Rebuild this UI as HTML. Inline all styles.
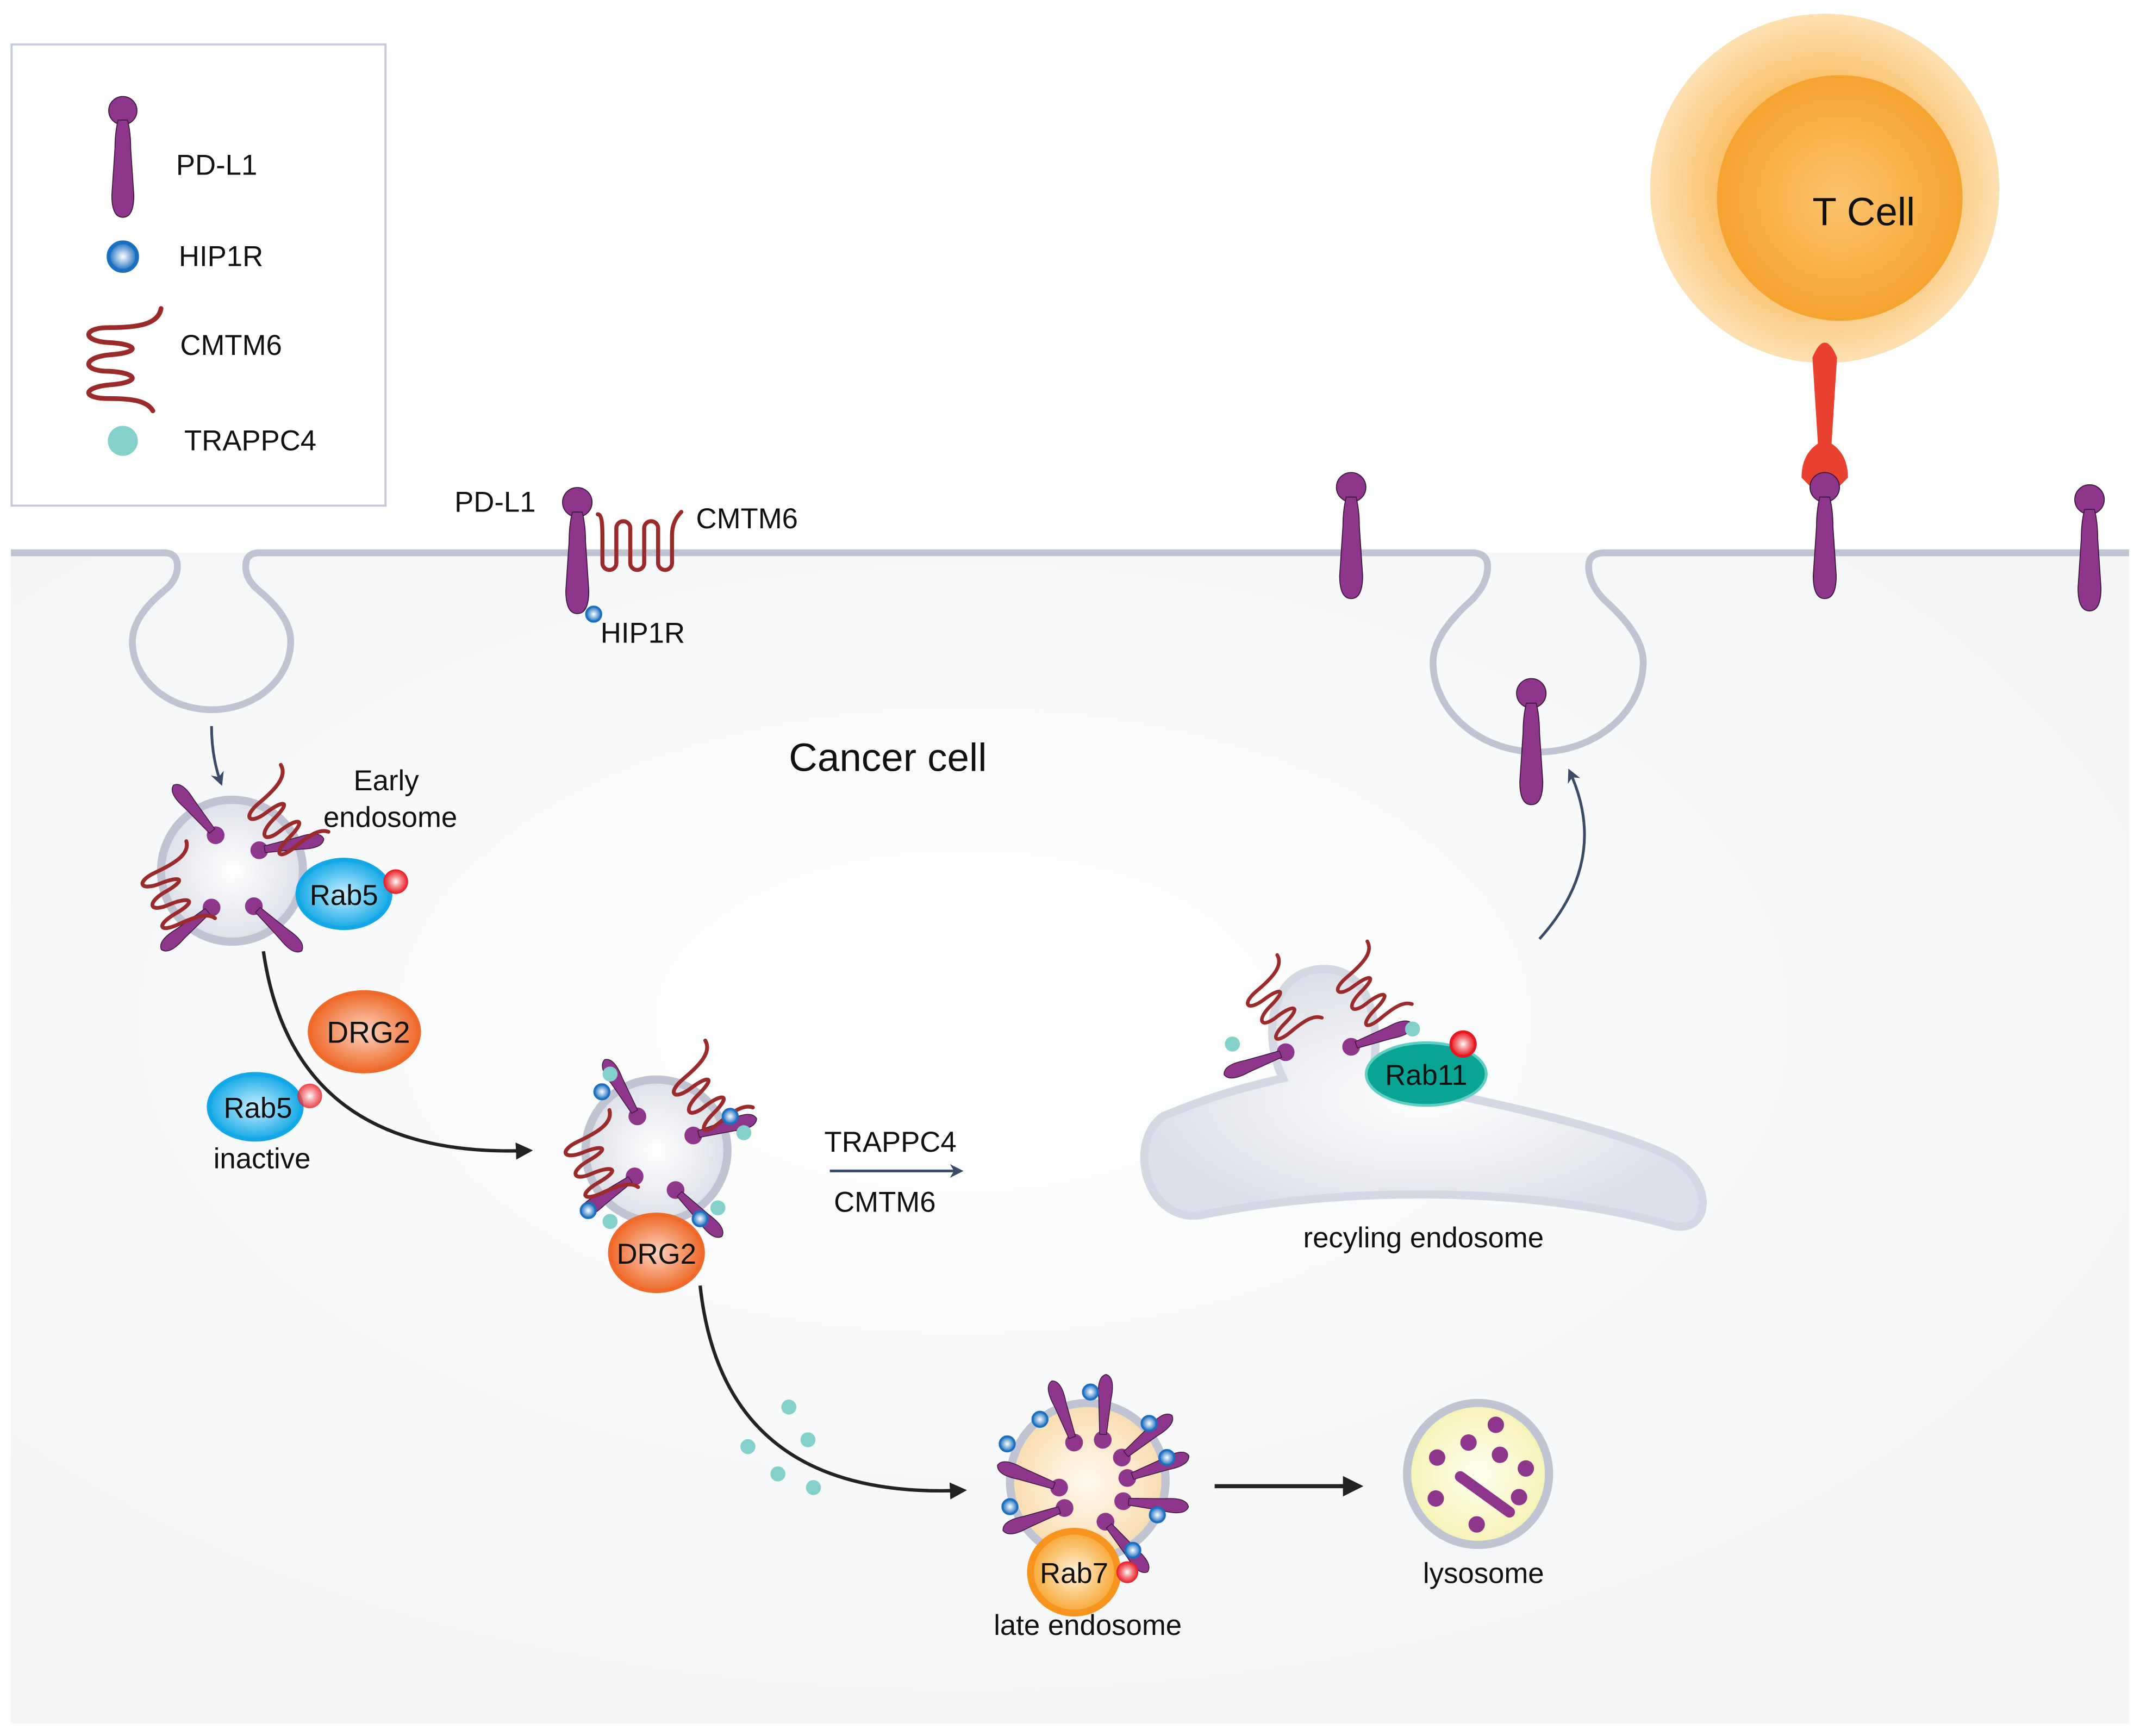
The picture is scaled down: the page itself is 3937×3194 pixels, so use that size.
<!DOCTYPE html>
<html><head><meta charset="utf-8"><style>html,body{margin:0;padding:0;background:#fff}svg{display:block}text{font-family:"Liberation Sans",Arial,sans-serif;fill:#111}</style></head><body>
<svg width="3937" height="3194" viewBox="0 0 1568 1272" xmlns="http://www.w3.org/2000/svg">
<defs>
<radialGradient id="cellbg" cx="0.45" cy="0.4" r="0.6"><stop offset="0" stop-color="#ffffff"/><stop offset="1" stop-color="#f3f5f7"/></radialGradient>
<radialGradient id="endo" cx="0.5" cy="0.5" r="0.5"><stop offset="0" stop-color="#ffffff"/><stop offset="1" stop-color="#dde0e8"/></radialGradient>
<radialGradient id="late" cx="0.5" cy="0.5" r="0.5"><stop offset="0" stop-color="#fffaf0"/><stop offset="1" stop-color="#f8dcb0"/></radialGradient>
<radialGradient id="lyso" cx="0.5" cy="0.5" r="0.5"><stop offset="0" stop-color="#fffff0"/><stop offset="1" stop-color="#f5f2b5"/></radialGradient>
<radialGradient id="blue" cx="0.5" cy="0.5" r="0.5"><stop offset="0" stop-color="#c8f0ff"/><stop offset="1" stop-color="#16a9e6"/></radialGradient>
<radialGradient id="orng" cx="0.5" cy="0.5" r="0.5"><stop offset="0" stop-color="#fbd3c0"/><stop offset="1" stop-color="#ef6a2a"/></radialGradient>
<radialGradient id="r7" cx="0.5" cy="0.5" r="0.5"><stop offset="0" stop-color="#fff3dc"/><stop offset="1" stop-color="#f7a632"/></radialGradient>
<radialGradient id="red" cx="0.5" cy="0.5" r="0.5"><stop offset="0" stop-color="#ffffff"/><stop offset="0.45" stop-color="#f4898c"/><stop offset="1" stop-color="#e8161e"/></radialGradient>
<radialGradient id="hip" cx="0.5" cy="0.5" r="0.5"><stop offset="0" stop-color="#ffffff"/><stop offset="1" stop-color="#1a6fc0"/></radialGradient>
<radialGradient id="tout" cx="0.5" cy="0.5" r="0.5"><stop offset="0.6" stop-color="#fbc06a"/><stop offset="1" stop-color="#fde1b3"/></radialGradient>
<radialGradient id="tin" cx="0.5" cy="0.5" r="0.5"><stop offset="0" stop-color="#fbc36d"/><stop offset="1" stop-color="#f6a430"/></radialGradient>
<g id="pd"><circle cx="0" cy="0" r="9" fill="#8e358c" stroke="#3a1a3a" stroke-width="0.6"/><path d="M-3,6 Q-5,14 -5,24 L-7,54 Q-7,68 0,68 Q7,68 7,54 L5,24 Q5,14 3,6 Z" fill="#8e358c" stroke="#3a1a3a" stroke-width="0.6"/></g>
<g id="pds"><circle cx="0" cy="0" r="6.5" fill="#8e358c"/><path d="M-2.5,4 L-4.5,30 Q-7,46 0,48 Q7,46 4.5,30 L2.5,4 Z" fill="#8e358c" stroke="#3a1a3a" stroke-width="0.6"/></g>
<path id="cm" d="M0,-12 C4,-12 4,0 4,8 L4,30 a6,6 0 0 0 12,0 L16,0 a6,6 0 0 1 12,0 L28,30 a6,6 0 0 0 12,0 L40,0 a6,6 0 0 1 12,0 L52,30 a6,6 0 0 0 12,0 L64,6 C64,-4 68,-10 72,-14" fill="none" stroke="#9b2a2a" stroke-width="3.5" stroke-linecap="round"/>
<path id="cms" d="M29,-37 C27,-25 11,-23 -9,-23 C-29,-23 -29,-13 -9,-12 C11,-11 16,-5 -9,-3 C-29,-1 -29,9 -9,9 C11,10 16,17 -9,19 C-29,21 -29,29 -9,29 C9,29 19,31 23,38" fill="none" stroke="#9b2a2a" stroke-width="3.5" stroke-linecap="round"/>
<g id="hp"><circle r="5.5" fill="url(#hip)" stroke="#1a6fc0" stroke-width="1.5"/></g>
<g id="tp"><circle r="5.5" fill="#84d0ca"/></g>
<marker id="ah" viewBox="0 0 10 10" refX="8" refY="5" markerWidth="5" markerHeight="5" orient="auto"><path d="M0,0 L10,5 L0,10 Z" fill="#222"/></marker>
<marker id="ahb" viewBox="0 0 10 10" refX="8" refY="5" markerWidth="5" markerHeight="5" orient="auto"><path d="M0,0 L10,5 L0,10 L3,5 Z" fill="#3b4a66"/></marker>
</defs>
<rect width="1568" height="1272" fill="#fff"/>
<rect x="8" y="405" width="1552" height="858" fill="url(#cellbg)"/>
<path d="M8,405 L120,405 Q130,405 130,415 Q130,425 120,433 Q97,452 97,470 A58,50 0 0 0 213,470 Q213,452 190,433 Q180,425 180,415 Q180,405 190,405 L1078,405 Q1090,405 1090,415 Q1090,428 1078,440 Q1050,465 1050,485 A77,66 0 0 0 1204,485 Q1204,465 1176,440 Q1164,428 1164,415 Q1164,405 1176,405 L1560,405" fill="none" stroke="#c0c4d2" stroke-width="5"/>
<rect x="8.5" y="32.5" width="274" height="338" fill="#fff" stroke="#c6c9d8" stroke-width="1.5"/>
<g transform="translate(90,81) scale(1.15)"><use href="#pd"/></g>
<text x="129" y="128" font-size="21">PD-L1</text>
<g transform="translate(90,188) scale(1.9)"><use href="#hp"/></g>
<text x="131" y="195" font-size="21">HIP1R</text>
<use href="#cms" transform="translate(89,263)"/>
<text x="132" y="260" font-size="21">CMTM6</text>
<circle cx="90" cy="323" r="11" fill="#84d0ca"/>
<text x="135" y="330" font-size="21">TRAPPC4</text>
<circle cx="1337" cy="138" r="128" fill="url(#tout)"/>
<circle cx="1348" cy="145" r="90" fill="url(#tin)"/>
<text x="1328" y="165" font-size="29">T Cell</text>
<path d="M1328,262 Q1337,240 1346,262 L1342,325 Q1354,333 1354,350 L1347,357 Q1337,344 1327,357 L1320,350 Q1320,333 1332,325 Z" fill="#e8412f"/>
<use href="#pd" transform="translate(423,368) scale(1.2)"/>
<use href="#cm" transform="translate(438,387) scale(0.85)"/>
<use href="#hp" transform="translate(435,450)"/>
<text x="333" y="375" font-size="21">PD-L1</text>
<text x="510" y="387" font-size="21">CMTM6</text>
<text x="440" y="471" font-size="21">HIP1R</text>
<use href="#pd" transform="translate(990,357) scale(1.2)"/>
<use href="#pd" transform="translate(1337,357) scale(1.2)"/>
<use href="#pd" transform="translate(1531,366) scale(1.2)"/>
<use href="#pd" transform="translate(1122,508) scale(1.2)"/>
<text x="578" y="565" font-size="29">Cancer cell</text>
<path d="M155,532 Q155,555 162,574" fill="none" stroke="#3b4a66" stroke-width="2" marker-end="url(#ahb)"/>
<path d="M1128,688 Q1180,630 1150,565" fill="none" stroke="#3b4a66" stroke-width="2" marker-end="url(#ahb)"/>
<path d="M193,697 Q215,850 388,843" fill="none" stroke="#222" stroke-width="2.5" marker-end="url(#ah)"/>
<path d="M513,942 Q530,1100 706,1092" fill="none" stroke="#222" stroke-width="2.5" marker-end="url(#ah)"/>
<path d="M890,1089 L996,1089" fill="none" stroke="#222" stroke-width="3" marker-end="url(#ah)"/>
<path d="M608,858 L704,858" fill="none" stroke="#3b4a66" stroke-width="2" marker-end="url(#ahb)"/>
<text x="604" y="844" font-size="21">TRAPPC4</text>
<text x="611" y="888" font-size="21">CMTM6</text>
<circle cx="170" cy="638" r="52" fill="url(#endo)" stroke="#c0c4d2" stroke-width="6"/>
<use href="#pds" transform="translate(158,612) rotate(140)"/>
<use href="#pds" transform="translate(190,623) rotate(-100)"/>
<use href="#pds" transform="translate(155,665) rotate(50)"/>
<use href="#pds" transform="translate(186,664) rotate(-47)"/>
<use href="#cms" transform="translate(207,598) rotate(-40) scale(0.8)"/>
<use href="#cms" transform="translate(128,653) rotate(-25) scale(0.8)"/>
<ellipse cx="252" cy="655" rx="34" ry="25" fill="url(#blue)" stroke="#12a7e6" stroke-width="3"/>
<text x="252" y="663" font-size="21" text-anchor="middle">Rab5</text>
<circle cx="290" cy="646" r="9" fill="url(#red)"/>
<text x="283" y="579" font-size="21" text-anchor="middle">Early</text>
<text x="286" y="606" font-size="21" text-anchor="middle">endosome</text>
<ellipse cx="267" cy="756" rx="40" ry="29" fill="url(#orng)" stroke="#ef6a2a" stroke-width="3"/>
<text x="270" y="764" font-size="22" text-anchor="middle">DRG2</text>
<ellipse cx="187" cy="811" rx="34" ry="24" fill="url(#blue)" stroke="#12a7e6" stroke-width="3"/>
<text x="189" y="819" font-size="21" text-anchor="middle">Rab5</text>
<circle cx="227" cy="803" r="9" fill="url(#red)" opacity="0.8"/>
<text x="192" y="856" font-size="21" text-anchor="middle">inactive</text>
<circle cx="481" cy="843" r="52" fill="url(#endo)" stroke="#c0c4d2" stroke-width="6"/>
<use href="#pds" transform="translate(467,818) rotate(150)"/>
<use href="#pds" transform="translate(508,832) rotate(-105)"/>
<use href="#pds" transform="translate(465,862) rotate(55)"/>
<use href="#pds" transform="translate(495,872) rotate(-45)"/>
<use href="#cms" transform="translate(518,800) rotate(-40) scale(0.8)"/>
<use href="#cms" transform="translate(438,850) rotate(-25) scale(0.8)"/>
<use href="#hp" transform="translate(441,800)"/><use href="#tp" transform="translate(447,787)"/>
<use href="#hp" transform="translate(535,818)"/><use href="#tp" transform="translate(545,830)"/>
<use href="#hp" transform="translate(431,887)"/><use href="#tp" transform="translate(447,895)"/>
<use href="#hp" transform="translate(513,893)"/><use href="#tp" transform="translate(526,885)"/>
<ellipse cx="481" cy="918" rx="34" ry="28" fill="url(#orng)" stroke="#ef6a2a" stroke-width="3"/>
<text x="481" y="926" font-size="21" text-anchor="middle">DRG2</text>
<use href="#tp" transform="translate(578,1031)"/><use href="#tp" transform="translate(592,1055)"/><use href="#tp" transform="translate(548,1060)"/><use href="#tp" transform="translate(570,1080)"/><use href="#tp" transform="translate(596,1090)"/>
<circle cx="797" cy="1085" r="57" fill="url(#late)" stroke="#c0c4d2" stroke-width="6"/>
<use href="#pds" transform="translate(787,1057) rotate(160)"/>
<use href="#pds" transform="translate(808,1055) rotate(183)"/>
<use href="#pds" transform="translate(822,1068) rotate(-130)"/>
<use href="#pds" transform="translate(826,1083) rotate(-110)"/>
<use href="#pds" transform="translate(823,1100) rotate(-85)"/>
<use href="#pds" transform="translate(810,1115) rotate(-40)"/>
<use href="#pds" transform="translate(776,1090) rotate(110)"/>
<use href="#pds" transform="translate(780,1105) rotate(70)"/>
<use href="#hp" transform="translate(799,1020)"/><use href="#hp" transform="translate(762,1040)"/><use href="#hp" transform="translate(738,1058)"/><use href="#hp" transform="translate(842,1043)"/><use href="#hp" transform="translate(855,1068)"/><use href="#hp" transform="translate(848,1110)"/><use href="#hp" transform="translate(740,1104)"/><use href="#hp" transform="translate(830,1136)"/>
<ellipse cx="787" cy="1152" rx="32" ry="30" fill="url(#r7)" stroke="#f7941d" stroke-width="5"/>
<text x="787" y="1160" font-size="21" text-anchor="middle">Rab7</text>
<circle cx="826" cy="1152" r="8" fill="url(#red)"/>
<text x="797" y="1198" font-size="21" text-anchor="middle">late endosome</text>
<circle cx="1083" cy="1080" r="52" fill="url(#lyso)" stroke="#c0c4d2" stroke-width="6"/>
<g fill="#8e358c"><circle cx="1096" cy="1044" r="6"/><circle cx="1076" cy="1057" r="6"/><circle cx="1053" cy="1068" r="6"/><circle cx="1099" cy="1066" r="6"/><circle cx="1118" cy="1076" r="6"/><circle cx="1052" cy="1098" r="6"/><circle cx="1113" cy="1097" r="6"/><circle cx="1082" cy="1117" r="6"/><path d="M1070,1082 L1106,1108" stroke="#8e358c" stroke-width="8" stroke-linecap="round"/></g>
<text x="1087" y="1160" font-size="21" text-anchor="middle">lysosome</text>
<path d="M852,818 C895,800 920,795 940,790 C925,760 930,712 968,710 C1008,708 1012,760 1005,790 C1080,805 1180,825 1225,848 C1258,868 1252,905 1225,898 C1120,868 980,870 882,890 C840,898 825,838 852,818 Z" fill="url(#endo)" stroke="#d4d8e3" stroke-width="6"/>
<use href="#cms" transform="translate(937,735) rotate(-40) scale(0.75)"/>
<use href="#cms" transform="translate(1003,725) rotate(-40) scale(0.75)"/>
<use href="#pds" transform="translate(942,771) rotate(70)"/>
<use href="#pds" transform="translate(990,767) rotate(-110)"/>
<use href="#tp" transform="translate(903,765)"/><use href="#tp" transform="translate(1035,754)"/>
<ellipse cx="1045" cy="787" rx="44" ry="23" fill="#0aa494" stroke="#5fcfc3" stroke-width="2"/>
<text x="1045" y="795" font-size="21" text-anchor="middle">Rab11</text>
<circle cx="1072" cy="765" r="9" fill="url(#red)" stroke="#e8161e" stroke-width="2"/>
<text x="1043" y="914" font-size="21" text-anchor="middle">recyling endosome</text>
</svg>
</body></html>
